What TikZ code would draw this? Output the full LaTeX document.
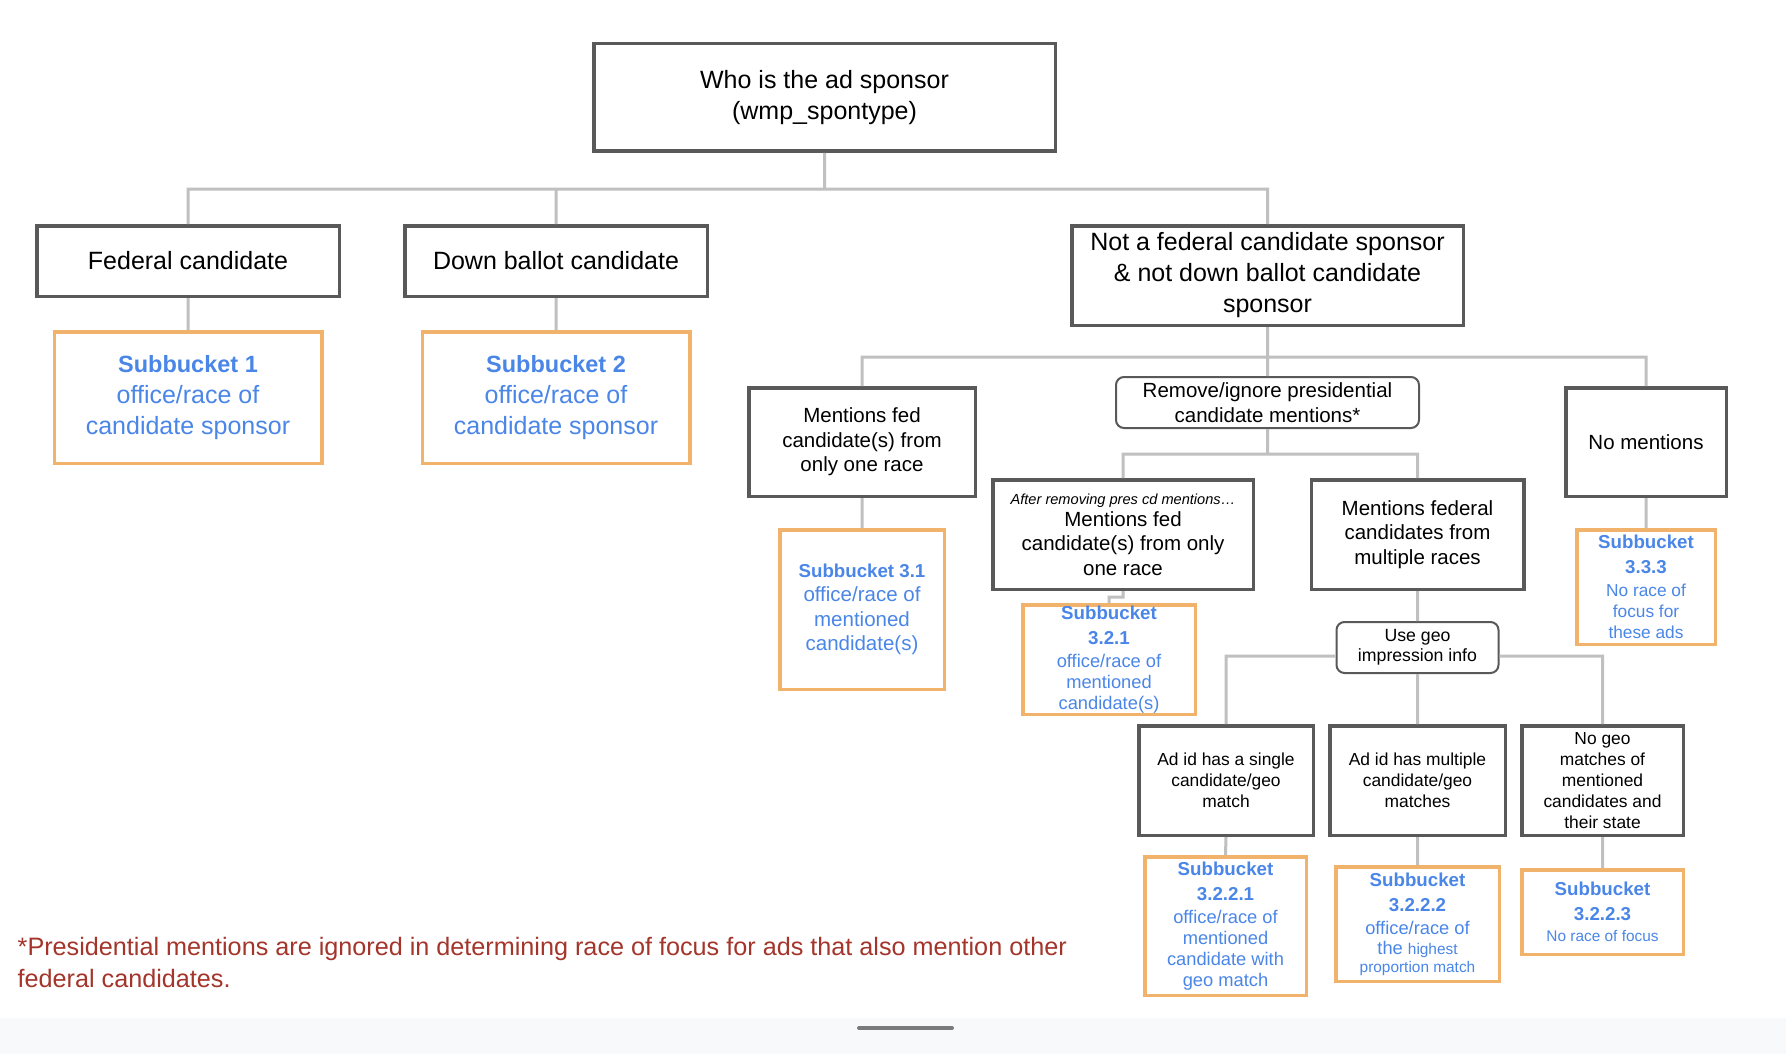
\documentclass[tikz,border=0pt]{standalone}
\usepackage{fontspec}
\setmainfont{Liberation Sans}
\definecolor{framecolor}{HTML}{595959}
\definecolor{linkcolor}{HTML}{C0C0C0}
\definecolor{bucketcolor}{HTML}{F1B26B}
\definecolor{bucketblue}{HTML}{4A86E8}
\definecolor{notecolor}{HTML}{A3352B}
\definecolor{bandcolor}{HTML}{F8F9FA}
\definecolor{handlecolor}{HTML}{7A7A7A}
\usetikzlibrary{positioning}
\tikzset{
	question/.style={
		rectangle,
		draw=framecolor,
		line width=3.5pt,
		fill=white,
		align=center,
		inner sep=0pt
	},
	bucket/.style={
		rectangle,
		draw=bucketcolor,
		line width=3.5pt,
		fill=white,
		text=bucketblue,
		align=center,
		inner sep=0pt
	},
	filter/.style={
		rectangle,
		rounded corners=8pt,
		draw=framecolor,
		line width=2pt,
		fill=white,
		align=center,
		inner sep=0pt
	},
	link/.style={
		draw=linkcolor,
		line width=3pt
	},
	note/.style={
		align=left,
		inner sep=0pt,
		text=notecolor,
		font=\fontsize{25.2}{32}\selectfont
	},
}
\newcommand{\szlarge}{\fontsize{25}{31}\selectfont}
\newcommand{\szmid}{\fontsize{20.5}{24.5}\selectfont}
\newcommand{\szsmall}{\fontsize{17.5}{21}\selectfont}
\newcommand{\sztiny}{\fontsize{15.4}{18}\selectfont}
\newcommand{\headA}[1]{\fontsize{23.5}{31}\selectfont\bfseries #1}
\newcommand{\headB}[1]{\fontsize{18.7}{21}\selectfont\bfseries #1}

\begin{document}
\begin{tikzpicture}[x=1pt,y=-1pt,on grid]
			\useasboundingbox (0,0) rectangle (1786,1054);
			\fill[white] (0,0) rectangle (1786,1054);
			% sponsor level
			\node[question,font=\szlarge,minimum width=461.5pt,minimum height=107.5pt] (top) at (824.5,97.5) {Who is the ad sponsor\\(wmp\_spontype)};
			\node[question,font=\szlarge,minimum width=302.5pt,minimum height=70.5pt] (fed) at (188,261) {Federal candidate};
			\node[question,font=\szlarge,minimum width=302.5pt,minimum height=70.5pt] (down) at (556,261) {Down ballot candidate};
			\node[question,font=\szlarge,minimum width=391.5pt,minimum height=99.5pt] (notfed) at (1267.5,275.5) {Not a federal candidate sponsor\\\& not down ballot candidate\\sponsor};
			\node[bucket,font=\szlarge,minimum width=267.5pt,minimum height=131.5pt] (sb1) [below=136.5pt of fed] {\headA{Subbucket 1}\\office/race of\\candidate sponsor};
			\node[bucket,font=\szlarge,minimum width=267.5pt,minimum height=131.5pt] (sb2) [below=136.5pt of down] {\headA{Subbucket 2}\\office/race of\\candidate sponsor};
			% mentions level
			\node[question,font=\szmid,minimum width=226.5pt,minimum height=108.5pt] (onerace) at (862,442) {Mentions fed\\candidate(s) from\\only one race};
			\node[filter,font=\szmid,minimum width=303pt,minimum height=51pt] (remove) at (1267.5,402.5) {Remove/ignore presidential\\candidate mentions*};
			\node[question,font=\szmid,minimum width=160.5pt,minimum height=108.5pt] (nomention) at (1646,442) {No mentions};
			\node[bucket,font=\szmid,minimum width=164.5pt,minimum height=159.5pt] (sb31) [below=167.5pt of onerace] {\headB{Subbucket 3.1}\\office/race of\\mentioned\\candidate(s)};
			\node[bucket,font=\fontsize{17.3}{21}\selectfont,minimum width=138.5pt,minimum height=114.5pt] (sb333) [below=145pt of nomention] {\headB{Subbucket}\\[4pt]\headB{3.3.3}\\[2pt]No race of\\focus for\\these ads};
			\node[question,font=\szmid,minimum width=260.5pt,minimum height=109.5pt] (after) at (1123,534.5) {\fontsize{14.6}{18}\selectfont\itshape After removing pres cd mentions…\\[-2.5pt]Mentions fed\\candidate(s) from only\\one race};
			\node[question,font=\szmid,minimum width=212.5pt,minimum height=109.5pt] (multi) at (1417.5,534.5) {Mentions federal\\candidates from\\multiple races};
			\node[bucket,font=\fontsize{18.3}{21}\selectfont,minimum width=172.5pt,minimum height=109.5pt] (sb321) at (1109,659.5) {\headB{Subbucket}\\[4pt]\headB{3.2.1}\\[2pt]office/race of\\mentioned\\candidate(s)};
			% geo level
			\node[filter,font=\fontsize{17.7}{20}\selectfont,minimum width=162pt,minimum height=51pt] (usegeo) at (1417.5,647.5) {Use geo\\impression info};
			\node[question,font=\fontsize{17.4}{21}\selectfont,minimum width=174.5pt,minimum height=109.5pt] (single) at (1226,780.5) {Ad id has a single\\candidate/geo\\match};
			\node[question,font=\fontsize{17.4}{21}\selectfont,minimum width=175.5pt,minimum height=109.5pt] (multiple) at (1417.5,780.5) {Ad id has multiple\\candidate/geo\\matches};
			\node[question,font=\fontsize{17.4}{21}\selectfont,minimum width=161.5pt,minimum height=109.5pt] (nogeo) at (1602.5,780.5) {No geo\\matches of\\mentioned\\candidates and\\their state};
			\node[bucket,font=\fontsize{18.3}{21}\selectfont,minimum width=161.5pt,minimum height=138.5pt] (sb3221) at (1225.5,926) {\headB{Subbucket}\\[4pt]\headB{3.2.2.1}\\[2pt]office/race of\\mentioned\\candidate with\\geo match};
			\node[bucket,font=\fontsize{18.3}{21}\selectfont,minimum width=163.5pt,minimum height=114.5pt] (sb3222) at (1417.5,924) {\headB{Subbucket}\\[4pt]\headB{3.2.2.2}\\[2pt]office/race of\\[-1pt]the {\sztiny highest}\\[-3pt]\sztiny proportion match};
			\node[bucket,font=\fontsize{18.3}{21}\selectfont,minimum width=161.5pt,minimum height=84.5pt] (sb3223) at (1602.5,912) {\headB{Subbucket}\\[4pt]\headB{3.2.2.3}\\\sztiny No race of focus};
			\path[link]
			(top.south) -- ++(0,36) -| (fed.north)
			(top.south) -- ++(0,36) -| (down.north)
			(top.south) -- ++(0,36) -| (notfed.north)
			(fed.south) -- (sb1.north)
			(down.south) -- (sb2.north)
			(notfed.south) -- ++(0,30) -| (onerace.north)
			(notfed.south) -- ++(0,30) -| (nomention.north)
			(notfed.south) -- (remove.north)
			(onerace.south) -- (sb31.north)
			(nomention.south) -- (sb333.north)
			(remove.south) -- ++(0,25) -| (after.north)
			(remove.south) -- ++(0,25) -| (multi.north)
			(after.south) -- ++(0,6) -| (sb321.north)
			(multi.south) -- (usegeo.north)
			(usegeo.186) -| (single.north)
			(usegeo.south) -- (multiple.north)
			(usegeo.-6) -| (nogeo.north)
			(single.south) -- (sb3221.north)
			(multiple.south) -- (sb3222.north)
			(nogeo.south) -- (sb3223.north);
			\node[note,anchor=north west] (footnote) at (17.5,937) {*Presidential mentions are ignored in determining race of focus for ads that also mention other\\federal candidates.};
			%\draw[help lines] (0,0) grid (1786,1054);
			\fill[bandcolor] (0,1018) rectangle (1786,1054);
			\draw[handlecolor,line width=4pt,line cap=round] (859,1028) -- (952,1028);
			\end{tikzpicture}
\end{document}
